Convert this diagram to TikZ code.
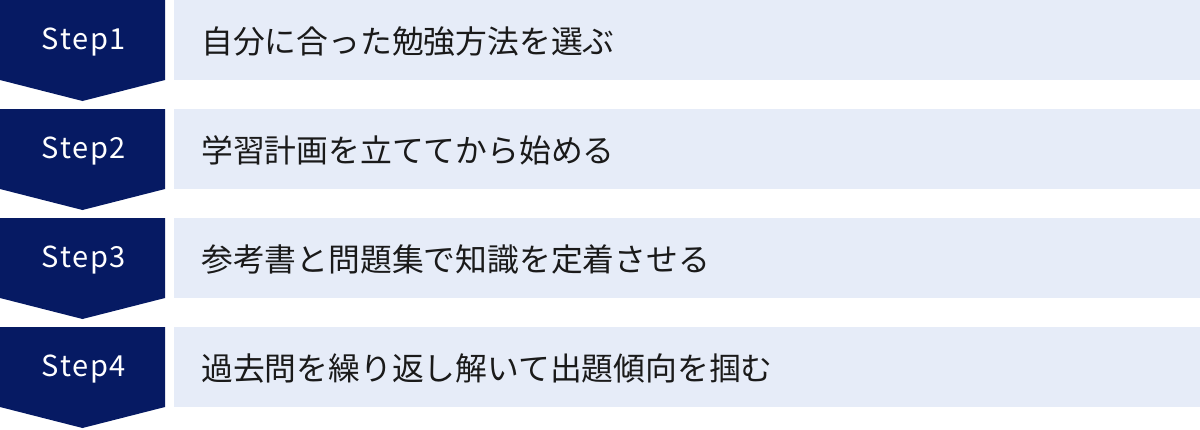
\documentclass[tikz,border=0pt]{standalone}
\usepackage{fontspec}
\setmainfont{Noto Sans CJK JP}
\newfontfamily\stepfont[LetterSpace=6]{Noto Sans CJK JP}
\definecolor{navy}{HTML}{061A63}
\definecolor{lightbg}{HTML}{E6ECF8}
\definecolor{txt}{HTML}{1A1A1A}
\begin{document}
\begin{tikzpicture}[x=1pt,y=-1pt,
  stepshape/.style={fill=navy,draw=none},
  textbox/.style={fill=lightbg,draw=none},
  steplabel/.style={text=white,font=\stepfont\fontsize{29}{32}\selectfont,inner sep=0pt},
  desclabel/.style={text=txt,font=\fontsize{31.8}{36}\selectfont,inner sep=0pt,anchor=west}]
\useasboundingbox (0,0) rectangle (1200,429);
\foreach \i/\t in {1/自分に合った勉強方法を選ぶ,2/学習計画を立ててから始める,3/参考書と問題集で知識を定着させる,4/過去問を繰り返し解いて出題傾向を掴む}{
  \pgfmathsetmacro{\yy}{(\i-1)*109}
  \fill[stepshape] (0,\yy) -- (165,\yy) -- (165,\yy+80) -- (82.5,\yy+101) -- (0,\yy+80) -- cycle;
  \fill[textbox] (174,\yy) rectangle (1200,\yy+80);
  \node[steplabel] (s\i) at (84,\yy+42) {Step\i};
  \node[desclabel] (d\i) at (201,\yy+41.5) {\t};
}
\end{tikzpicture}
\end{document}
